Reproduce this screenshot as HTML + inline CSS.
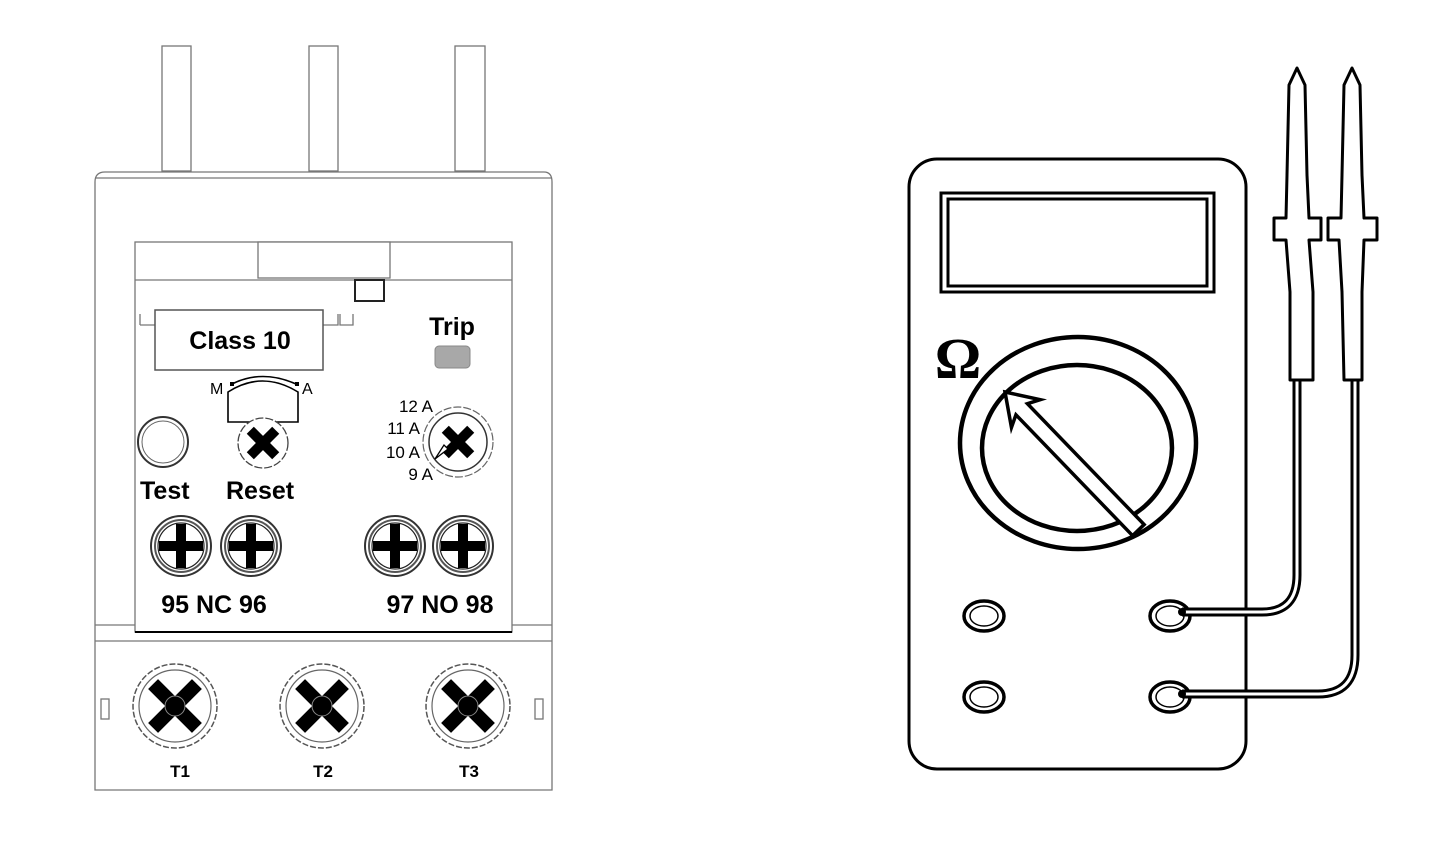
<!DOCTYPE html>
<html><head><meta charset="utf-8"><style>
html,body{margin:0;padding:0;background:#fff;}
svg{display:block}
text{font-family:"Liberation Sans",sans-serif;}
</style></head><body>
<svg width="1445" height="844" viewBox="0 0 1445 844" xmlns="http://www.w3.org/2000/svg">
<defs>
<g id="xscrew">
 <circle r="42" fill="#fff" stroke="#555" stroke-width="1.5" stroke-dasharray="6 2"/>
 <circle r="36" fill="none" stroke="#666" stroke-width="1.2"/>
 <g transform="rotate(45)"><rect x="-31" y="-7" width="62" height="14" fill="#000"/><rect x="-7" y="-31" width="14" height="62" fill="#000"/></g>
 <circle r="10" fill="#000" stroke="#888" stroke-width="1"/>
</g>
<g id="plus">
 <circle r="30" fill="#fff" stroke="#333" stroke-width="2"/>
 <circle r="26" fill="none" stroke="#555" stroke-width="2"/>
 <circle r="23" fill="none" stroke="#222" stroke-width="1.2"/>
 <rect x="-22" y="-5" width="44" height="10" fill="#000"/>
 <rect x="-5" y="-22" width="10" height="44" fill="#000"/>
</g>
</defs>

<g stroke="#777" stroke-width="1.3" fill="#fff">
 <rect x="162" y="46" width="29" height="125"/>
 <rect x="309" y="46" width="29" height="125"/>
 <rect x="455" y="46" width="30" height="125"/>
 <path d="M95 182 Q95 172 105 172 L544 172 Q552 172 552 182 L552 790 L95 790 Z"/>
 <line x1="95" y1="178" x2="552" y2="178"/>
 <rect x="135" y="242" width="377" height="390" fill="#fff"/>
 <line x1="135" y1="280" x2="512" y2="280"/>
 <rect x="258" y="242" width="132" height="36"/>
 <line x1="95" y1="625" x2="135" y2="625"/>
 <line x1="512" y1="625" x2="552" y2="625"/>
 <line x1="95" y1="641" x2="552" y2="641"/>
 <rect x="101" y="699" width="8" height="20"/>
 <rect x="535" y="699" width="8" height="20"/>
 <path d="M140 325 L140 314 M140 325 L155 325 M323 325 L338 325 L338 314 M340 314 L340 325 L353 325 L353 314" fill="none"/>
</g>
<line x1="135" y1="632" x2="512" y2="632" stroke="#000" stroke-width="2"/>
<rect x="355" y="280" width="29" height="21" fill="#fff" stroke="#222" stroke-width="2"/>
<rect x="155" y="310" width="168" height="60" fill="#fff" stroke="#555" stroke-width="1.5"/>
<text x="240" y="349" font-size="25" font-weight="bold" text-anchor="middle">Class 10</text>
<text x="452" y="335" font-size="25" font-weight="bold" text-anchor="middle">Trip</text>
<rect x="435" y="346" width="35" height="22" rx="4" fill="#a8a8a8" stroke="#888"/>
<path d="M228 392 Q262 370 298 392 L298 422 L228 422 Z" fill="#fff" stroke="#000" stroke-width="1.6"/>
<path d="M232 384 Q262 369 296 384" fill="none" stroke="#000" stroke-width="1.6"/>
<rect x="230" y="382" width="4" height="4"/><rect x="295" y="382" width="4" height="4"/>
<text x="210" y="394" font-size="16">M</text>
<text x="302" y="394" font-size="16">A</text>
<circle cx="163" cy="442" r="25" fill="#fff" stroke="#333" stroke-width="2"/>
<circle cx="163" cy="442" r="21" fill="none" stroke="#666" stroke-width="1"/>
<g transform="translate(263,443)">
 <circle r="25" fill="#fff" stroke="#444" stroke-width="1.3" stroke-dasharray="8 2"/>
 <g transform="rotate(45)"><rect x="-18" y="-5" width="36" height="10"/><rect x="-5" y="-18" width="10" height="36"/></g>
</g>
<g transform="translate(458,442)">
 <circle r="35" fill="#fff" stroke="#666" stroke-width="1.2" stroke-dasharray="8 2"/>
 <circle r="29" fill="none" stroke="#333" stroke-width="1.5"/>
 <g transform="rotate(45)"><rect x="-18" y="-5" width="36" height="10"/><rect x="-5" y="-18" width="10" height="36"/></g>
 <path d="M-23 17 L-10 7 L-14 3 Z" fill="#fff" stroke="#000" stroke-width="1.3"/>
</g>
<g font-size="17" text-anchor="end">
 <text x="433" y="412">12 A</text>
 <text x="420" y="434">11 A</text>
 <text x="420" y="458">10 A</text>
 <text x="433" y="480">9 A</text>
</g>
<text x="140" y="499" font-size="25" font-weight="bold">Test</text>
<text x="226" y="499" font-size="25" font-weight="bold">Reset</text>
<use href="#plus" x="181" y="546"/>
<use href="#plus" x="251" y="546"/>
<use href="#plus" x="395" y="546"/>
<use href="#plus" x="463" y="546"/>
<text x="214" y="613" font-size="25" font-weight="bold" text-anchor="middle">95 NC 96</text>
<text x="440" y="613" font-size="25" font-weight="bold" text-anchor="middle">97 NO 98</text>
<use href="#xscrew" x="175" y="706"/>
<use href="#xscrew" x="322" y="706"/>
<use href="#xscrew" x="468" y="706"/>
<text x="180" y="777" font-size="17" font-weight="bold" text-anchor="middle">T1</text>
<text x="323" y="777" font-size="17" font-weight="bold" text-anchor="middle">T2</text>
<text x="469" y="777" font-size="17" font-weight="bold" text-anchor="middle">T3</text>

<rect x="909" y="159" width="337" height="610" rx="28" fill="#fff" stroke="#000" stroke-width="3"/>
<rect x="941" y="193" width="273" height="99" fill="#fff" stroke="#000" stroke-width="3"/>
<rect x="948" y="199" width="259" height="87" fill="none" stroke="#000" stroke-width="3"/>
<text x="958" y="378" text-anchor="middle" style="font-family:'Liberation Serif',serif;font-size:58px;font-weight:bold">Ω</text>
<ellipse cx="1078" cy="443" rx="118" ry="106" fill="#fff" stroke="#000" stroke-width="4.5"/>
<ellipse cx="1077" cy="448" rx="95" ry="83" fill="#fff" stroke="#000" stroke-width="4.5"/>
<g transform="translate(1005,392) rotate(46)">
 <path d="M0 0 L30 -20 L24 -8 L192 -8 L192 8 L24 8 L30 20 Z" fill="#fff" stroke="#000" stroke-width="3.5" stroke-linejoin="miter"/>
</g>
<g fill="#fff" stroke="#000">
 <g stroke-width="3.5"><ellipse cx="984" cy="616" rx="20" ry="15"/><ellipse cx="1170" cy="616" rx="20" ry="15"/><ellipse cx="984" cy="697" rx="20" ry="15"/><ellipse cx="1170" cy="697" rx="20" ry="15"/></g>
 <g stroke-width="1.5"><ellipse cx="984" cy="616" rx="14" ry="10"/><ellipse cx="1170" cy="616" rx="14" ry="10"/><ellipse cx="984" cy="697" rx="14" ry="10"/><ellipse cx="1170" cy="697" rx="14" ry="10"/></g>
</g>
<g fill="none" stroke="#000">
 <path d="M1297 380 L1297 575 Q1297 612 1262 612 L1182 612" stroke-width="9"/>
 <path d="M1297 380 L1297 575 Q1297 612 1262 612 L1182 612" stroke="#fff" stroke-width="3"/>
 <path d="M1355 380 L1355 655 Q1355 694 1318 694 L1182 694" stroke-width="9"/>
 <path d="M1355 380 L1355 655 Q1355 694 1318 694 L1182 694" stroke="#fff" stroke-width="3"/>
</g>
<circle cx="1182" cy="612" r="4"/><circle cx="1182" cy="694" r="4"/>
<g fill="#fff" stroke="#000" stroke-width="3" stroke-linejoin="round">
 <path d="M1297 68 L1305 85 L1307 175 L1309 218 L1321 218 L1321 240 L1309 240 L1313 292 L1313 380 L1290 380 L1290 292 L1286 240 L1274 240 L1274 218 L1286 218 L1287 175 L1289 85 Z"/>
 <path d="M1352 68 L1360 85 L1362 175 L1364 218 L1377 218 L1377 240 L1364 240 L1362 292 L1362 380 L1344 380 L1342 292 L1339 240 L1328 240 L1328 218 L1341 218 L1342 175 L1344 85 Z"/>
</g>
</svg>
</body></html>
